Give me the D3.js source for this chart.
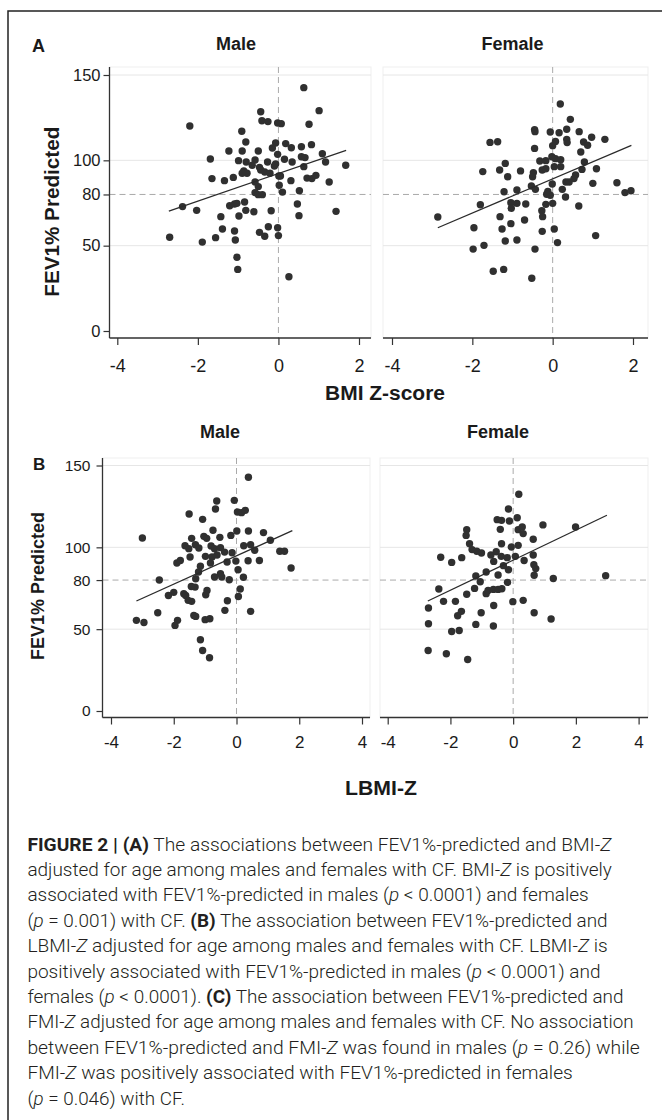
<!DOCTYPE html>
<html><head><meta charset="utf-8">
<script src="https://cdn.jsdelivr.net/npm/d3@7"></script>
<style>body{margin:0;background:#fff}svg{display:block}</style>
</head><body>
<svg id="c" width="662" height="1120"></svg>
<script>
// ---------- DATA ----------
const yTicks = [0, 50, 80, 100, 150];
const gridValues = [50, 100, 150];
const xTicksA = [-4, -2, 0, 2];
const xTicksB = [-4, -2, 0, 2, 4];
const refFev = 80;
const refZ = 0;

// Panel A, male: BMI Z-score vs FEV1%
const maleBmiZ = [0.63,1.01,-0.44,-0.41,-0.26,-0.02,0.07,0.76,-2.20,-0.91,-0.81,-0.07,0.18,0.32,-0.15,0.57,0.82,-1.23,-0.90,-0.50,-0.02,0.57,0.66,1.09,-1.69,-0.99,-0.80,-0.58,-0.27,-0.07,0.15,0.34,1.17,1.67,-0.65,-0.47,0.63,-0.86,-0.78,-0.90,-0.44,-0.34,-0.21,-0.10,0.05,0.01,-1.65,-1.34,-1.12,0.31,0.71,0.83,0.93,1.26,-0.58,-0.50,0.02,0.10,0.52,-0.58,-0.50,-0.40,-2.38,-2.03,-1.21,-1.09,-1.03,-0.84,-0.81,-0.61,-0.18,0.47,-0.98,-1.43,0.51,1.43,-1.39,-1.09,-0.25,-0.02,-0.47,-0.34,0.00,-1.56,-1.07,-2.70,-1.89,-1.03,-1.01,0.26];
const maleBmiFev = [142.6,129.1,128.5,123.2,122.7,121.9,121.5,121.1,120.1,117.0,110.7,110.2,109.8,107.4,107.2,108.0,109.2,105.5,105.5,105.5,103.5,102.1,101.6,103.9,100.8,99.8,99.0,100.2,99.0,97.9,100.6,99.0,99.0,97.1,97.1,95.9,96.3,93.8,92.4,92.4,94.3,93.2,92.4,96.7,90.8,90.8,89.3,88.1,90.0,88.1,89.6,89.3,91.2,87.3,87.3,84.6,85.4,81.4,82.2,81.1,79.9,79.9,72.9,70.7,73.4,74.4,74.8,75.6,70.7,69.9,70.5,74.4,67.4,67.0,67.6,70.1,59.8,58.6,61.1,60.5,57.8,55.5,55.9,54.7,53.3,54.9,52.1,43.2,36.1,31.8];
const maleBmiFitZ = [-2.72, 1.68];
const maleBmiFitFev = [70.3, 105.9];

// Panel A, female
const femaleBmiZ = [0.19,0.44,-0.45,-0.44,-0.06,0.16,0.35,0.66,-1.56,-1.37,0.07,0.35,0.77,0.97,1.30,0.00,0.36,0.70,0.87,-0.45,-0.02,0.07,0.20,-0.32,-0.17,-1.18,-1.74,-1.32,-1.12,-0.80,-0.48,-0.26,-0.17,0.04,0.20,-0.50,0.79,0.73,1.09,0.57,0.53,0.33,0.41,-0.01,1.00,1.60,1.80,1.95,-0.53,-0.43,0.24,-1.21,-0.89,-0.12,-0.06,0.32,-0.15,-1.80,-1.04,-0.89,-0.67,-1.03,-0.17,0.00,0.65,-0.27,-0.25,-1.31,-2.86,-0.70,-1.04,-1.96,-1.26,-0.26,0.04,-1.18,-0.89,0.12,1.07,-1.71,-1.98,-0.44,-1.48,-1.22,-0.52];
const femaleBmiFev = [133.0,124.0,118.0,116.8,116.6,116.2,118.2,116.8,110.5,110.9,111.1,112.3,110.7,113.5,112.3,108.6,110.4,104.9,108.8,107.0,102.1,101.0,100.4,99.6,99.8,98.2,93.4,94.3,90.4,93.8,92.8,94.3,95.1,96.3,96.3,90.4,99.0,94.7,95.1,91.4,89.3,87.3,87.3,86.1,86.5,86.9,81.1,82.2,85.0,83.0,83.0,81.6,82.6,81.8,79.5,78.5,80.1,74.0,75.2,74.8,74.4,71.9,74.2,74.8,73.2,70.5,67.0,67.0,66.8,65.0,62.9,60.5,59.8,58.4,59.8,52.7,53.3,51.8,55.9,50.2,48.0,48.0,35.0,36.1,30.9];
const femaleBmiFitZ = [-2.86, 1.96];
const femaleBmiFitFev = [60.5, 108.8];

// Panel B, male: LBMI-Z vs FEV1%
const maleLbmiZ = [0.38,-0.63,-0.07,-0.67,0.03,0.16,0.28,-1.51,-1.08,-3.00,-1.43,-1.04,-0.95,-0.75,-0.53,-0.18,0.01,0.38,0.86,1.08,-1.64,-1.52,-1.20,-0.81,-0.70,-0.51,-0.38,-0.14,0.23,0.45,0.58,1.38,1.53,-1.48,-0.99,-0.78,-0.62,-0.30,-0.02,0.37,0.73,-1.90,-1.79,-1.15,-0.83,0.05,1.74,-1.21,-0.51,-0.47,-0.70,-0.23,0.22,-2.46,-1.30,-1.32,-1.44,-2.00,-2.17,-1.68,-1.62,-1.54,-1.43,-0.94,-0.98,-0.29,0.06,0.12,-2.51,-1.88,-1.96,-0.37,0.45,-3.19,-2.95,-1.36,-1.30,-1.00,-0.85,-1.15,-1.08,-0.86,-1.31];
const maleLbmiFev = [142.8,128.3,128.7,123.4,121.6,121.2,122.6,120.4,117.1,105.7,105.5,106.7,105.5,110.4,106.1,107.3,110.0,110.0,109.0,104.3,101.0,99.2,99.6,100.8,99.2,99.8,97.1,96.7,101.0,101.6,98.2,97.6,97.6,94.1,94.5,94.1,95.3,91.0,91.6,91.8,92.0,90.4,92.0,88.4,90.4,86.3,87.4,84.9,83.9,81.9,81.9,80.2,81.7,80.0,80.8,75.7,76.1,72.5,70.6,71.7,70.6,67.6,67.0,73.7,71.0,67.4,70.0,74.5,60.0,55.4,52.3,61.5,60.9,55.4,54.1,58.4,57.8,55.8,56.4,43.5,37.0,32.5,101.6];
const maleLbmiFitZ = [-3.19, 1.78];
const maleLbmiFitFev = [67.2, 110.2];

// Panel B, female
const femaleLbmiZ = [0.18,-0.15,-0.51,-0.37,-0.12,0.13,0.16,0.29,0.32,0.95,1.99,-1.48,-1.50,-0.41,0.64,-1.39,-1.31,-1.16,-0.37,-0.06,0.16,-1.01,-0.71,-0.54,-0.38,-0.19,0.07,0.64,-2.31,-1.96,-1.64,-0.62,0.35,0.66,0.72,-0.86,-0.15,-0.48,0.67,-1.19,-1.05,-0.18,1.28,2.95,-2.37,-1.48,-1.23,-0.86,-0.80,-0.63,-0.48,-0.36,-2.22,-1.84,-0.62,-0.01,0.32,-2.70,-1.65,-1.77,-1.02,0.67,1.21,-2.70,-1.19,-0.63,-1.96,-1.72,-2.71,-2.13,-1.45,-0.31];
const femaleLbmiFev = [132.4,123.4,116.9,116.5,116.1,118.1,110.8,112.4,108.4,113.7,112.4,110.8,107.3,111.0,104.9,102.2,98.6,97.6,102.2,100.2,101.2,96.5,95.3,97.3,94.5,93.7,94.5,95.3,93.9,90.8,93.7,91.4,92.0,89.4,87.0,84.9,86.3,83.1,82.9,82.5,79.0,78.6,81.0,82.7,74.5,71.3,74.9,71.7,73.7,74.3,74.3,74.7,67.0,67.0,64.5,66.8,67.6,62.9,60.9,58.2,60.0,60.0,56.2,53.3,52.9,51.9,48.6,49.2,37.0,35.0,31.5,88.8];
const femaleLbmiFitZ = [-2.72, 2.99];
const femaleLbmiFitFev = [67.2, 119.6];

const captionLines = [
  [["b","FIGURE 2 | (A)"],["n"," The associations between FEV1%-predicted and BMI-"],["i","Z"]],
  [["n","adjusted for age among males and females with CF. BMI-"],["i","Z"],["n"," is positively"]],
  [["n","associated with FEV1%-predicted in males ("],["i","p"],["n"," < 0.0001) and females"]],
  [["n","("],["i","p"],["n"," = 0.001) with CF. "],["b","(B)"],["n"," The association between FEV1%-predicted and"]],
  [["n","LBMI-"],["i","Z"],["n"," adjusted for age among males and females with CF. LBMI-"],["i","Z"],["n"," is"]],
  [["n","positively associated with FEV1%-predicted in males ("],["i","p"],["n"," < 0.0001) and"]],
  [["n","females ("],["i","p"],["n"," < 0.0001). "],["b","(C)"],["n"," The association between FEV1%-predicted and"]],
  [["n","FMI-"],["i","Z"],["n"," adjusted for age among males and females with CF. No association"]],
  [["n","between FEV1%-predicted and FMI-"],["i","Z"],["n"," was found in males ("],["i","p"],["n"," = 0.26) while"]],
  [["n","FMI-"],["i","Z"],["n"," was positively associated with FEV1%-predicted in females"]],
  [["n","("],["i","p"],["n"," = 0.046) with CF."]]
];
const captionEnds = [612,612,589,608,608,600.7,624,634,640,573,185];

// ---------- DRAW ----------
const svg = d3.select('#c');
const INK = '#1a1a1a', DOT = '#303030', FONT = '"Liberation Sans", Arial, sans-serif';
svg.append('rect').attr('width',662).attr('height',1120).attr('fill','#fff');
svg.append('path').attr('d','M8,1120 V11 H662').attr('fill','none').attr('stroke','#222').attr('stroke-width',1.5);

function fitText(t, cx, cy, w, rot) {
  const bw = t.node().getComputedTextLength();
  const k = w / bw;
  t.attr('transform', `translate(${cx},${cy})` + (rot ? ` rotate(${rot})` : '') + ` scale(${k},1)`);
}
function label(txt, cx, cy, size, w, rot, anchor) {
  const t = svg.append('text').attr('x',0).attr('y',0).attr('text-anchor', anchor || 'middle')
    .attr('font-family', FONT).attr('font-weight', 700).attr('font-size', size).attr('fill', INK).text(txt);
  if (w) fitText(t, cx, cy, w, rot); else t.attr('transform', `translate(${cx},${cy})` + (rot ? ` rotate(${rot})` : ''));
  return t;
}

const panels = [
  {xs: maleBmiZ, ys: maleBmiFev, fx: maleBmiFitZ, fy: maleBmiFitFev, xt: xTicksA,
   xd: [-4,2], xr: [117.3,359], L:109.5, R:371, yd:[0,150], yr:[331,75], T:67, B:338, yAxis:true, ytw:6, ytp:3, ytSize:16.5, xtSize:18, xtp:14},
  {xs: femaleBmiZ, ys: femaleBmiFev, fx: femaleBmiFitZ, fy: femaleBmiFitFev, xt: xTicksA,
   xd: [-4,2], xr: [392,633], L:383, R:648, yd:[0,150], yr:[331,75], T:67, B:338, yAxis:false, xtSize:18, xtp:14},
  {xs: maleLbmiZ, ys: maleLbmiFev, fx: maleLbmiFitZ, fy: maleLbmiFitFev, xt: xTicksB,
   xd: [-4,4], xr: [111,362], L:102.5, R:370, yd:[0,150], yr:[711,465.5], T:458, B:717.5, yAxis:true, ytw:6, ytp:6, ytSize:15.5, xtSize:17, xtp:11},
  {xs: femaleLbmiZ, ys: femaleLbmiFev, fx: femaleLbmiFitZ, fy: femaleLbmiFitFev, xt: xTicksB,
   xd: [-4,4], xr: [387.7,638.6], L:380, R:648, yd:[0,150], yr:[711,465.5], T:458, B:717.5, yAxis:false, xtSize:17, xtp:11}
];

panels.forEach(p => {
  const x = d3.scaleLinear().domain(p.xd).range(p.xr);
  const y = d3.scaleLinear().domain(p.yd).range(p.yr);
  const g = svg.append('g');
  g.append('rect').attr('x',p.L).attr('y',p.T).attr('width',p.R-p.L).attr('height',p.B-p.T)
    .attr('fill','none').attr('stroke','#efefef').attr('stroke-width',1);
  g.selectAll('.grid').data(gridValues).join('line')
    .attr('x1',p.L).attr('x2',p.R).attr('y1',d=>y(d)).attr('y2',d=>y(d))
    .attr('stroke','#e6e6e6').attr('stroke-width',1);
  g.append('line').attr('x1',p.L).attr('x2',p.R).attr('y1',y(refFev)).attr('y2',y(refFev))
    .attr('stroke','#aaaaaa').attr('stroke-width',1).attr('stroke-dasharray','6,4');
  g.append('line').attr('x1',x(refZ)).attr('x2',x(refZ)).attr('y1',p.T).attr('y2',p.B)
    .attr('stroke','#aaaaaa').attr('stroke-width',1).attr('stroke-dasharray','6,4');
  g.selectAll('circle').data(p.xs.map((v,i)=>[v,p.ys[i]])).join('circle')
    .attr('cx',d=>x(d[0])).attr('cy',d=>y(d[1])).attr('r',3.7).attr('fill',DOT);
  g.append('line').attr('x1',x(p.fx[0])).attr('y1',y(p.fy[0])).attr('x2',x(p.fx[1])).attr('y2',y(p.fy[1]))
    .attr('stroke','#2a2a2a').attr('stroke-width',1.3);
  // x axis
  const xa = g.append('g').attr('transform',`translate(0,${p.B})`)
    .call(d3.axisBottom(x).tickValues(p.xt).tickSize(7).tickPadding(p.xtp).tickSizeOuter(0).tickFormat(d3.format('d')));
  xa.select('.domain').remove();
  xa.selectAll('line').attr('stroke','#333').attr('stroke-width',1.2);
  xa.selectAll('text').attr('font-family',FONT).attr('font-size',p.xtSize).attr('fill',INK).text(d=>d<0?'-'+Math.abs(d):d);
  g.append('line').attr('x1',p.L).attr('x2',p.R).attr('y1',p.B).attr('y2',p.B).attr('stroke','#333').attr('stroke-width',1.3);
  if (p.yAxis) {
    const ya = g.append('g').attr('transform',`translate(${p.L},0)`)
      .call(d3.axisLeft(y).tickValues(yTicks).tickSize(p.ytw).tickPadding(p.ytp).tickSizeOuter(0));
    ya.select('.domain').remove();
    ya.selectAll('line').attr('stroke','#333').attr('stroke-width',1.2);
    ya.selectAll('text').attr('font-family',FONT).attr('font-size',p.ytSize).attr('fill',INK);
    g.append('line').attr('x1',p.L).attr('x2',p.L).attr('y1',p.T).attr('y2',p.B).attr('stroke','#333').attr('stroke-width',1.3);
  }
});

// titles and labels
label('A', 32, 52, 18, null, 0, 'start');
label('Male', 236, 50, 18);
label('Female', 512.6, 50, 18);
label('BMI Z-score', 385, 400, 20, 120);
label('FEV1% Predicted', 59, 211.7, 20, 170, -90);
label('B', 33, 470, 17, null, 0, 'start');
label('Male', 220, 438, 18);
label('Female', 498, 438, 18);
label('LBMI-Z', 381, 795, 21, 72);
label('FEV1% Predicted', 43.5, 586, 18, 148, -90);

// caption
const capX = 27.4, capY0 = 850.5, capDy = 25.4;
captionLines.forEach((line, i) => {
  const t = svg.append('text').attr('x',0).attr('y',0).attr('font-family','Roboto, "Liberation Sans", sans-serif')
    .attr('font-size',18).attr('fill','#231f20').attr('font-weight',300);
  line.forEach(([s, txt]) => {
    const ts = t.append('tspan').text(txt);
    if (s === 'b') ts.attr('font-weight', 700);
    if (s === 'i') ts.attr('font-style', 'italic');
  });
  fitText(t, capX, capY0 + i*capDy, captionEnds[i] - capX, 0);
});
</script>
</body></html>
